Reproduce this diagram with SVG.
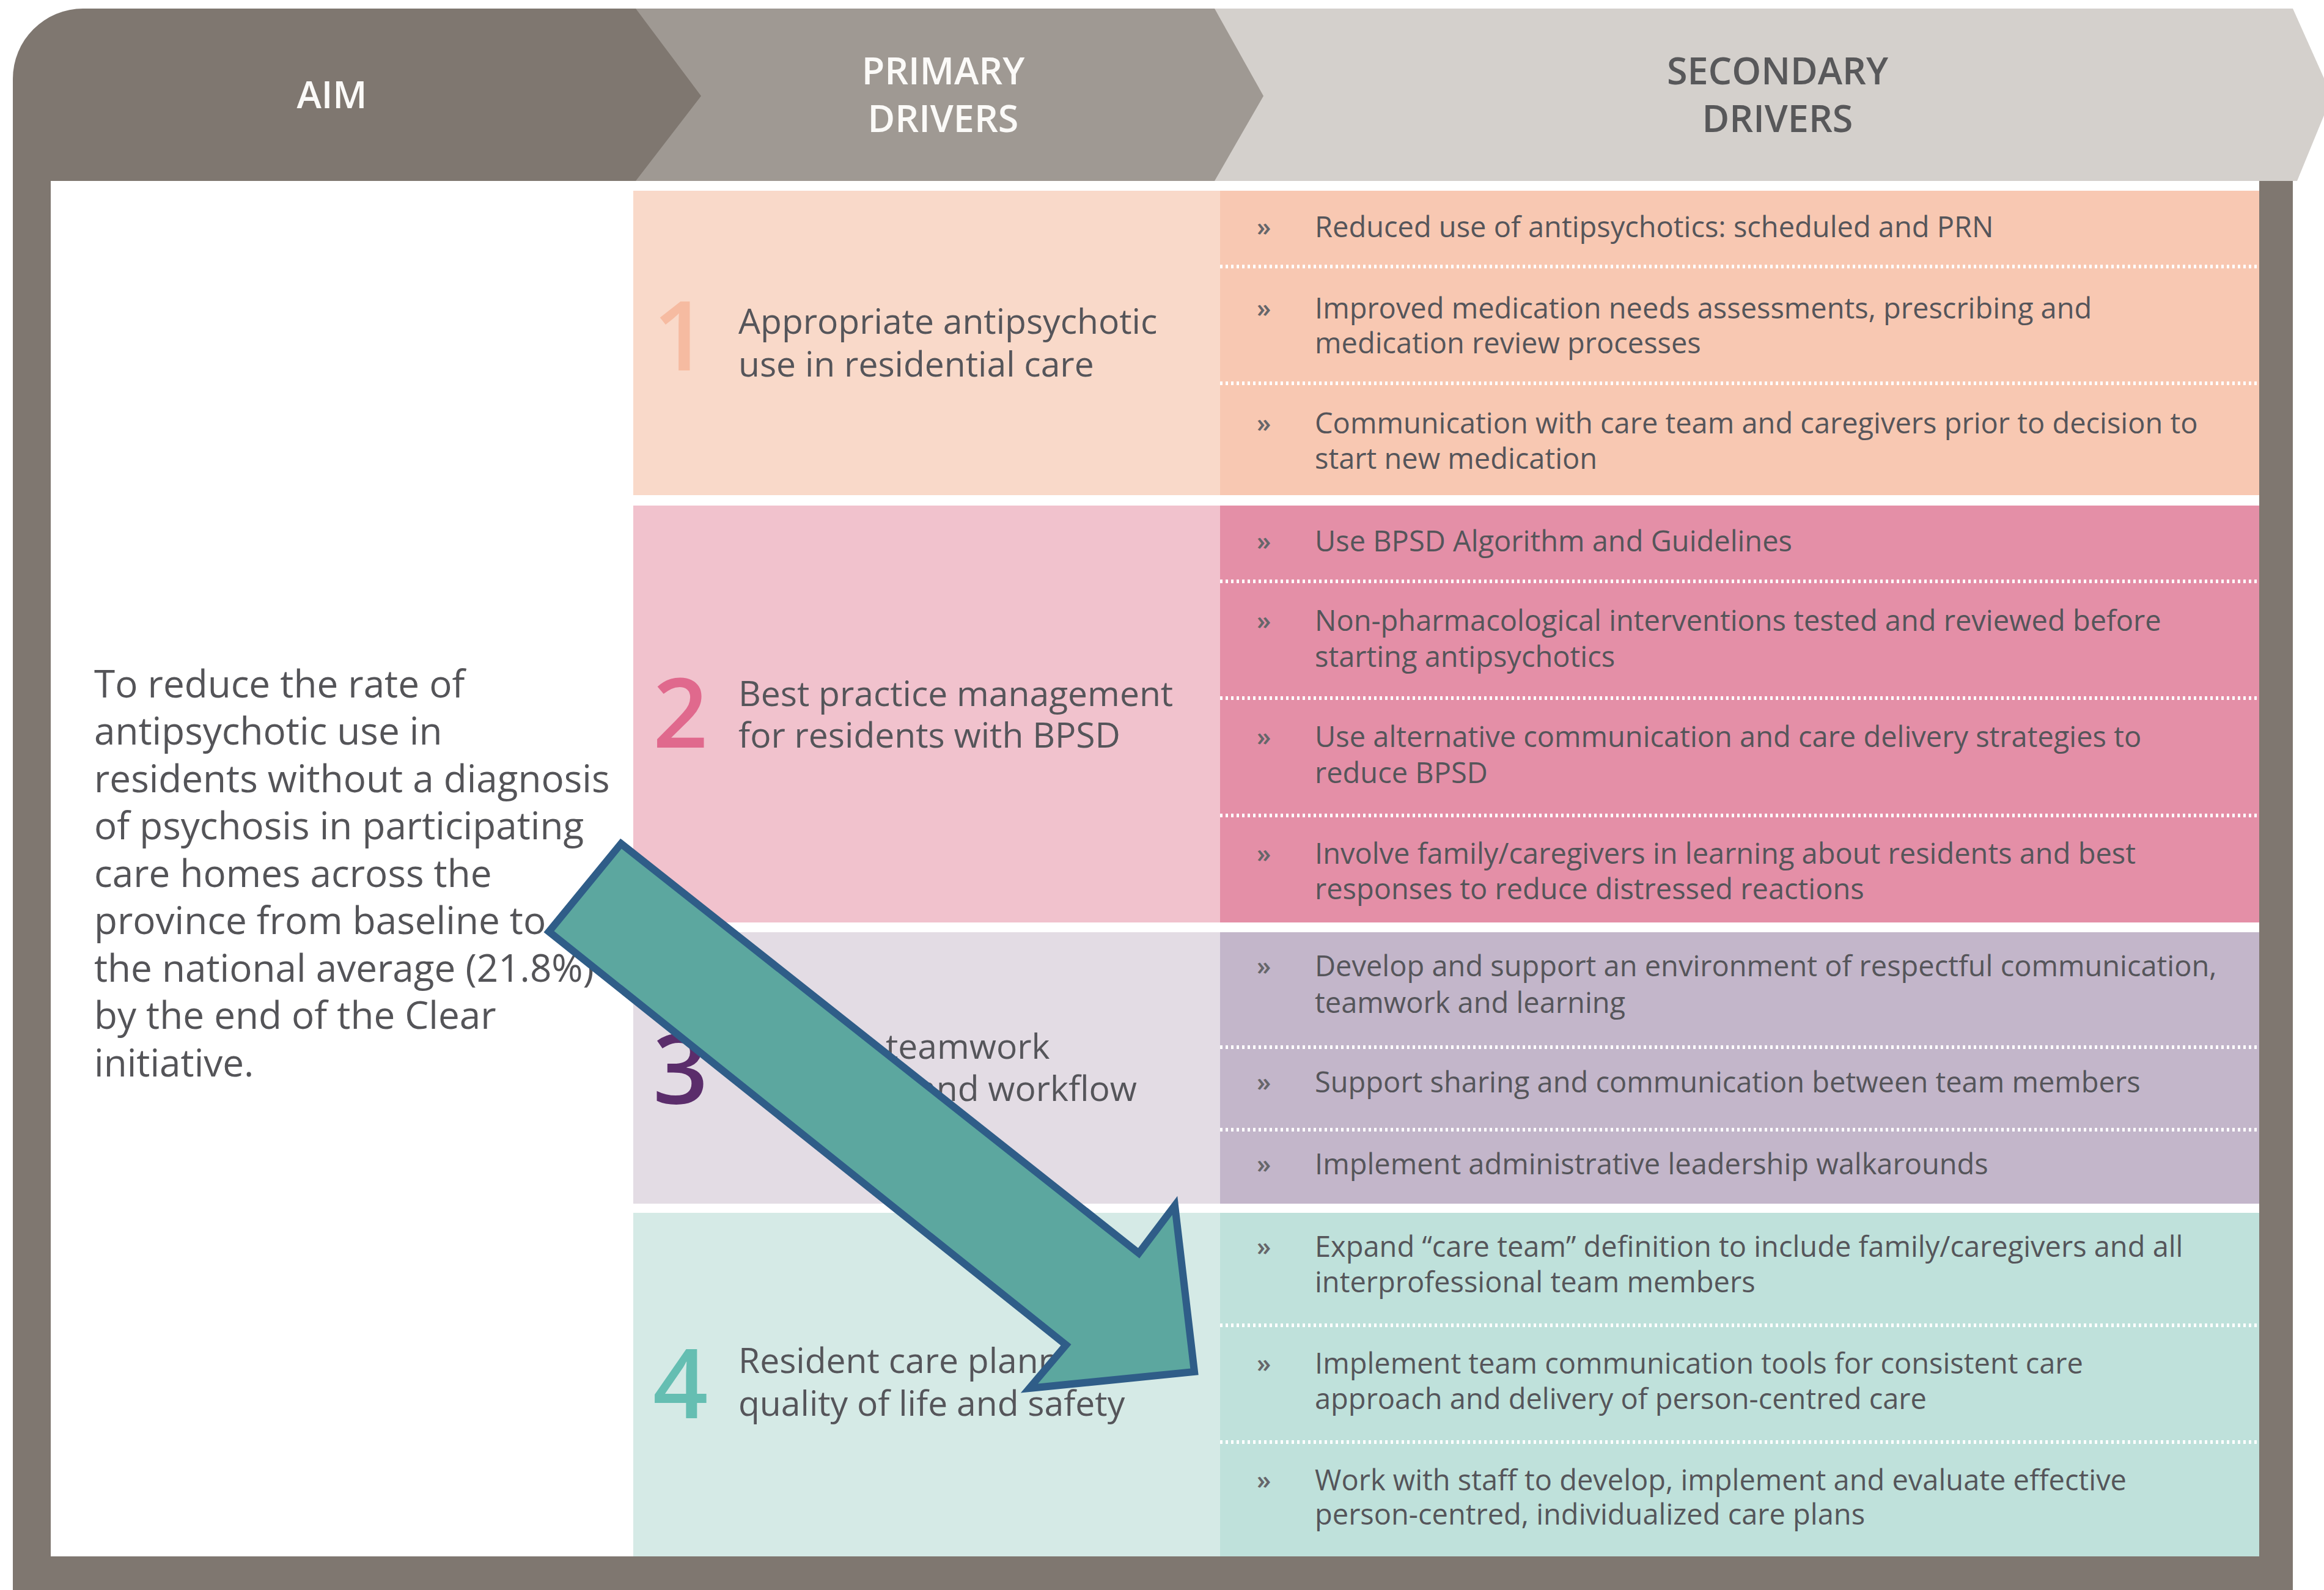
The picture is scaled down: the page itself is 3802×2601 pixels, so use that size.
<svg xmlns="http://www.w3.org/2000/svg" width="3802" height="2601" viewBox="0 0 3802 2601">
  <style>
    .hdr { font-family: "Open Sans", "Noto Sans", sans-serif; font-weight: 600; font-size: 61px; text-anchor: middle; }
    .hdr-light { fill: #fbfaf8; }
    .hdr-dark { fill: #58585a; }
    .aim { font-family: "Open Sans", "Noto Sans", sans-serif; font-size: 62px; fill: #545458; }
    .ptxt { font-family: "Open Sans", "Noto Sans", sans-serif; font-size: 57px; fill: #55555a; }
    .num { font-family: "Open Sans", "Noto Sans", sans-serif; font-size: 158px; font-weight: 600; }
    .stxt { font-family: "Open Sans", "Noto Sans", sans-serif; font-size: 47px; fill: #55555a; }
    .bul { font-family: "Open Sans", "Noto Sans", sans-serif; font-size: 42px; font-weight: 600; fill: #66666a; }
    .sep { stroke: #ffffff; stroke-width: 6; stroke-dasharray: 4 5; fill: none; }
    .frame { fill: #7f7770; }
  </style>

  <rect width="3802" height="2601" fill="#ffffff"/>

  <!-- outer frame: left, right and bottom bars -->
  <g id="frame">
    <rect class="frame" x="21" y="200" width="62" height="2401"/>
    <rect class="frame" x="3696" y="296" width="55" height="2305"/>
    <rect class="frame" x="21" y="2546" width="3730" height="55"/>
  </g>

  <!-- header chevrons -->
  <g id="header-secondary">
    <polygon points="1980,14 3751,14 3815,157 3758,296 1980,296" fill="#d4d0cc"/>
    <text class="hdr hdr-dark" x="2908" y="138">SECONDARY</text>
    <text class="hdr hdr-dark" x="2908" y="216">DRIVERS</text>
  </g>
  <g id="header-primary">
    <polygon points="1030,14 1987,14 2067,157 1987,296 1030,296" fill="#9f9993"/>
    <text class="hdr hdr-light" x="1543" y="138">PRIMARY</text>
    <text class="hdr hdr-light" x="1543" y="216">DRIVERS</text>
  </g>
  <g id="header-aim">
    <path d="M21,296 L21,129 A115,115 0 0 1 136,14 L1040,14 L1147,157 L1040,296 Z" fill="#7f7770"/>
    <text class="hdr hdr-light" x="543" y="177">AIM</text>
  </g>

  <!-- aim statement -->
  <g id="aim">
    <text class="aim" x="154" y="1141">To reduce the rate of</text>
    <text class="aim" x="154" y="1218">antipsychotic use in</text>
    <text class="aim" x="154" y="1296">residents without a diagnosis</text>
    <text class="aim" x="154" y="1373">of psychosis in participating</text>
    <text class="aim" x="154" y="1451">care homes across the</text>
    <text class="aim" x="154" y="1528">province from baseline to</text>
    <text class="aim" x="154" y="1606">the national average (21.8%)</text>
    <text class="aim" x="154" y="1683">by the end of the Clear</text>
    <text class="aim" x="154" y="1761">initiative.</text>
  </g>

  <!-- primary drivers -->
  <g id="primary-1">
    <rect x="1036" y="312" width="960" height="498" fill="#f9d9c9"/>
    <text class="num" x="1068" y="606" fill="#f6bba1">1</text>
    <text class="ptxt" x="1208" y="546">Appropriate antipsychotic</text>
    <text class="ptxt" x="1208" y="616">use in residential care</text>
  </g>
  <g id="primary-2">
    <rect x="1036" y="827" width="960" height="682" fill="#f1c2cd"/>
    <text class="num" x="1068" y="1223" fill="#e0698d">2</text>
    <text class="ptxt" x="1208" y="1155">Best practice management</text>
    <text class="ptxt" x="1208" y="1223">for residents with BPSD</text>
  </g>
  <g id="primary-3">
    <rect x="1036" y="1525" width="960" height="444" fill="#e3dce4"/>
    <text class="num" x="1068" y="1805" fill="#5b2d6b">3</text>
    <text class="ptxt" x="1449" y="1732">teamwork</text>
    <text class="ptxt" x="1500" y="1801">and workflow</text>
  </g>
  <g id="primary-4">
    <rect x="1036" y="1984" width="960" height="562" fill="#d5eae6"/>
    <text class="num" x="1068" y="2320" fill="#65beb2">4</text>
    <text class="ptxt" x="1208" y="2246">Resident care planning for</text>
    <text class="ptxt" x="1208" y="2316">quality of life and safety</text>
  </g>

  <!-- secondary drivers -->
  <g id="secondary-1">
    <rect x="1996" y="312" width="1700" height="498" fill="#f8c8b2"/>
    <line class="sep" x1="1996" y1="436" x2="3696" y2="436"/>
    <line class="sep" x1="1996" y1="627" x2="3696" y2="627"/>
    <text class="bul" x="2056" y="386">»</text>
    <text class="stxt" x="2151" y="388">Reduced use of antipsychotics: scheduled and PRN</text>
    <text class="bul" x="2056" y="519">»</text>
    <text class="stxt" x="2151" y="521">Improved medication needs assessments, prescribing and</text>
    <text class="stxt" x="2151" y="578">medication review processes</text>
    <text class="bul" x="2056" y="707">»</text>
    <text class="stxt" x="2151" y="709">Communication with care team and caregivers prior to decision to</text>
    <text class="stxt" x="2151" y="767">start new medication</text>
  </g>
  <g id="secondary-2">
    <rect x="1996" y="827" width="1700" height="682" fill="#e48fa7"/>
    <line class="sep" x1="1996" y1="951" x2="3696" y2="951"/>
    <line class="sep" x1="1996" y1="1142" x2="3696" y2="1142"/>
    <line class="sep" x1="1996" y1="1334" x2="3696" y2="1334"/>
    <text class="bul" x="2056" y="900">»</text>
    <text class="stxt" x="2151" y="902">Use BPSD Algorithm and Guidelines</text>
    <text class="bul" x="2056" y="1030">»</text>
    <text class="stxt" x="2151" y="1032">Non-pharmacological interventions tested and reviewed before</text>
    <text class="stxt" x="2151" y="1091">starting antipsychotics</text>
    <text class="bul" x="2056" y="1220">»</text>
    <text class="stxt" x="2151" y="1222">Use alternative communication and care delivery strategies to</text>
    <text class="stxt" x="2151" y="1281">reduce BPSD</text>
    <text class="bul" x="2056" y="1411">»</text>
    <text class="stxt" x="2151" y="1413">Involve family/caregivers in learning about residents and best</text>
    <text class="stxt" x="2151" y="1471">responses to reduce distressed reactions</text>
  </g>
  <g id="secondary-3">
    <rect x="1996" y="1525" width="1700" height="444" fill="#c3b6ca"/>
    <line class="sep" x1="1996" y1="1713" x2="3696" y2="1713"/>
    <line class="sep" x1="1996" y1="1848" x2="3696" y2="1848"/>
    <text class="bul" x="2056" y="1595">»</text>
    <text class="stxt" x="2151" y="1597">Develop and support an environment of respectful communication,</text>
    <text class="stxt" x="2151" y="1657">teamwork and learning</text>
    <text class="bul" x="2056" y="1785">»</text>
    <text class="stxt" x="2151" y="1787">Support sharing and communication between team members</text>
    <text class="bul" x="2056" y="1919">»</text>
    <text class="stxt" x="2151" y="1921">Implement administrative leadership walkarounds</text>
  </g>
  <g id="secondary-4">
    <rect x="1996" y="1984" width="1700" height="562" fill="#bfe1db"/>
    <line class="sep" x1="1996" y1="2168" x2="3696" y2="2168"/>
    <line class="sep" x1="1996" y1="2359" x2="3696" y2="2359"/>
    <text class="bul" x="2056" y="2054">»</text>
    <text class="stxt" x="2151" y="2056">Expand “care team” definition to include family/caregivers and all</text>
    <text class="stxt" x="2151" y="2114">interprofessional team members</text>
    <text class="bul" x="2056" y="2245">»</text>
    <text class="stxt" x="2151" y="2247">Implement team communication tools for consistent care</text>
    <text class="stxt" x="2151" y="2305">approach and delivery of person-centred care</text>
    <text class="bul" x="2056" y="2436">»</text>
    <text class="stxt" x="2151" y="2438">Work with staff to develop, implement and evaluate effective</text>
    <text class="stxt" x="2151" y="2494">person-centred, individualized care plans</text>
  </g>

  <!-- block arrow from the aim towards driver 4 -->
  <g id="connectors">
    <polygon points="1016,1380 1863,2050 1922,1972 1954,2244 1684,2271 1744,2200 898,1524"
             fill="#5ca79f" stroke="#2f5d88" stroke-width="12" stroke-linejoin="miter"/>
  </g>
</svg>
